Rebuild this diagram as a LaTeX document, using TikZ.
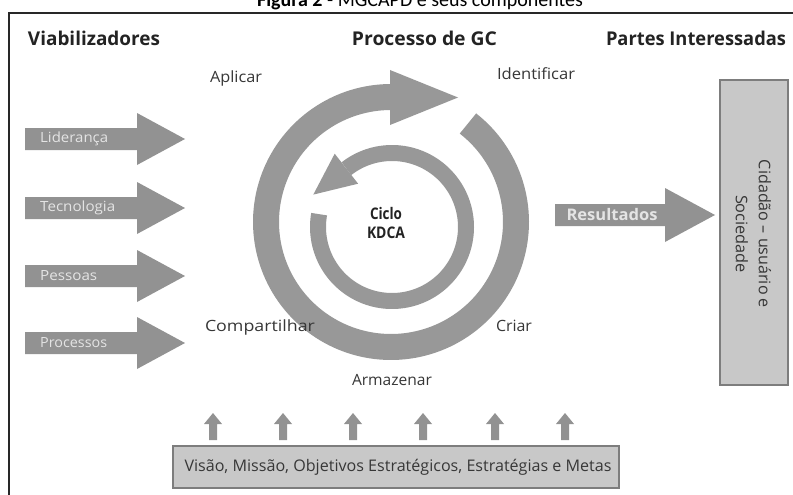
\documentclass[tikz,border=0pt]{standalone}
\usepackage{fontspec}
\setmainfont{Open Sans}
\newfontfamily\titlefont{Carlito}
\usepackage{graphicx}
\definecolor{ringc}{RGB}{152,152,152}
\definecolor{arrowc}{RGB}{146,146,146}
\definecolor{arrtext}{RGB}{228,228,228}
\definecolor{headc}{RGB}{35,35,35}
\definecolor{labc}{RGB}{55,55,55}
\definecolor{boxfill}{RGB}{200,200,200}
\definecolor{boxdraw}{RGB}{125,125,125}
\definecolor{framec}{RGB}{40,40,40}
\newcommand\fw[2]{\resizebox{#1pt}{\height}{#2}}
\tikzset{
  heading/.style={font=\bfseries\fontsize{19}{22}\selectfont, text=headc, inner sep=0pt},
  steplabel/.style={font=\fontsize{15.5}{18}\selectfont, text=labc, inner sep=0pt},
  armlabel/.style={font=\fontsize{14}{16}\selectfont, text=arrtext, inner sep=0pt, anchor=west},
  graybox/.style={draw=boxdraw, line width=1.5pt, fill=boxfill, inner sep=0pt},
}
\begin{document}
\begin{tikzpicture}[x=1pt,y=-1pt]
\useasboundingbox (0,0) rectangle (793,495);
\fill[white] (0,0) rectangle (793,495);
% caption (cut at the top)
\node[anchor=base, inner sep=0pt, font=\titlefont\fontsize{20}{22}\selectfont, text=black] (title) at (420,7) {\textbf{Figura 2} - MGCAPD e seus componentes};
% frame
\draw[framec, line width=2.5pt] (9,495) -- (9,13) -- (793,13);
% headings
\node[heading] (hv) at (94,38) {\fw{132}{Viabilizadores}};
\node[heading] (hp) at (424.5,38) {\fw{145}{Processo de GC}};
\node[heading] (hi) at (696,38) {\fw{180}{Partes Interessadas}};
% left block arrows
\foreach \y/\t/\w/\n in {139/Liderança/68/lid, 208/Tecnologia/75/tec, 276/Pessoas/57/pes, 343/Processos/67/pro}{
  \fill[arrowc] (25,\y-11) -- (137,\y-11) -- (137,\y-26) -- (185,\y) -- (137,\y+26) -- (137,\y+11) -- (25,\y+11) -- cycle;
  \node[armlabel] (\n) at (40,\y) {\fw{\w}{\t}};
}
% outer ring
\draw[ringc, line width=26pt] plot[domain=-52:270, samples=150] ({391+125*cos(\x)},{222+125*sin(\x)});
\fill[ringc] (390,70) -- (458,97.5) -- (390,125) -- cycle;
% inner ring
\draw[ringc, line width=16pt] plot[domain=-128:190, samples=150] ({392+74*cos(\x)},{227+74*sin(\x)});
\fill[ringc] (334.7,153.7) -- (313.3,194.6) -- (358.1,183.7) -- cycle;
\node[font=\bfseries\fontsize{16}{18}\selectfont, text=headc, inner sep=0pt] (ciclo) at (386,213) {\fw{32}{Ciclo}};
\node[font=\bfseries\fontsize{16}{18}\selectfont, text=headc, inner sep=0pt] (kdca) at (386,233) {\fw{38}{KDCA}};
% step labels
\node[steplabel] (apl) at (236,78) {\fw{52}{Aplicar}};
\node[steplabel] (ide) at (536,74) {\fw{78}{Identificar}};
\node[steplabel] (com) at (260,327) {\fw{110}{Compartilhar}};
\node[steplabel] (cri) at (514,326) {\fw{36}{Criar}};
\node[steplabel] (arm) at (392,380) {\fw{80}{Armazenar}};
% results arrow
\fill[arrowc] (555,204) -- (665,204) -- (665,188) -- (715,215) -- (665,242) -- (665,226) -- (555,226) -- cycle;
\node[font=\bfseries\fontsize{16}{18}\selectfont, text=arrtext, inner sep=0pt] (res) at (612,214) {\fw{91}{Resultados}};
% right box
\node[graybox, minimum width=68pt, minimum height=305pt] (cid) at (754,232.5) {};
\node[rotate=-90, align=center, font=\fontsize{16}{23}\selectfont, text=labc, inner sep=0pt] (cidt) at (753.5,234) {\fw{148}{Cidadão – usuário e}\\\fw{78}{Sociedade}};
% bottom box
\node[graybox, minimum width=446pt, minimum height=42pt] (vis) at (396,467) {};
\node[font=\fontsize{16}{18}\selectfont, text=labc, inner sep=0pt] (vist) at (398,467) {\fw{427}{Visão, Missão, Objetivos Estratégicos, Estratégias e Metas}};
% small up arrows
\foreach \x in {213,283,353,423,495,565}{
  \fill[arrowc] (\x-4,440) -- (\x-4,424) -- (\x-9,424) -- (\x,413) -- (\x+9,424) -- (\x+4,424) -- (\x+4,440) -- cycle;
}
\end{tikzpicture}
\end{document}
